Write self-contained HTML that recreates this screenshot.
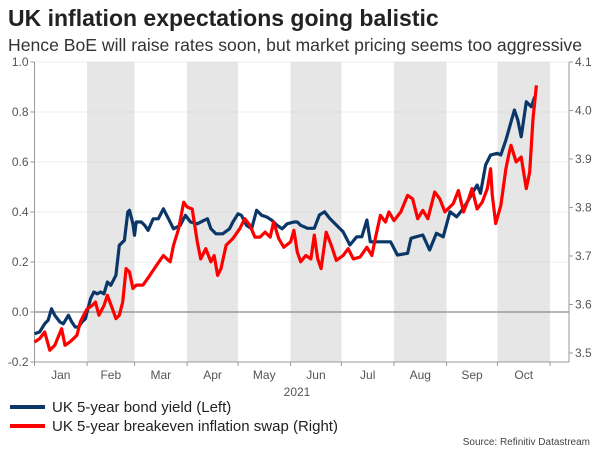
<!DOCTYPE html>
<html><head><meta charset="utf-8"><style>
body{margin:0;background:#fff;font-family:"Liberation Sans",sans-serif;}
#wrap{position:relative;width:600px;height:450px;overflow:hidden}
</style></head><body>
<div id="wrap">
<svg id="svg" width="600" height="450" xmlns="http://www.w3.org/2000/svg" font-family="Liberation Sans, sans-serif">
<text x="8" y="26" font-size="23" font-weight="bold" fill="#222">UK inflation expectations going balistic</text>
<text x="8" y="51" font-size="17.6" fill="#333">Hence BoE will raise rates soon, but market pricing seems too aggressive</text>
<g id="bands"></g><g id="grid"></g><g id="axes"></g><g id="lines"></g>
<text x="297" y="396" font-size="12" fill="#555" text-anchor="middle">2021</text>
<line x1="10" y1="407" x2="45" y2="407" stroke="#0b3768" stroke-width="4"/>
<text x="52" y="412" font-size="15" fill="#222">UK 5-year bond yield (Left)</text>
<line x1="10" y1="426" x2="45" y2="426" stroke="#ff0000" stroke-width="4"/>
<text x="52" y="431" font-size="15" fill="#222">UK 5-year breakeven inflation swap (Right)</text>
<text x="590" y="445" font-size="10" fill="#444" text-anchor="end">Source: Refinitiv Datastream</text>
</svg></div>
<script>
const months=["Jan","Feb","Mar","Apr","May","Jun","Jul","Aug","Sep","Oct"];
const monthStarts=[0,31,59,90,120,151,181,212,243,273,304];
const leftTicks=[-0.2,0,0.2,0.4,0.6,0.8,1.0];
const leftTickLabels=["-0.2","0.0","0.2","0.4","0.6","0.8","1.0"];
const rightTicks=[3.5,3.6,3.7,3.8,3.9,4.0,4.1];
const rightTickLabels=["3.5","3.6","3.7","3.8","3.9","4.0","4.1"];
const bondDays=[0,3,6,8,10,12,15,17,20,22,24,26,28,30,31,33,35,37,39,41,43,45,48,50,53,55,56,58,59,60,63,65,67,70,73,76,79,82,86,89,92,96,100,102,104,107,111,115,117,120,122,125,128,131,134,137,140,143,146,149,153,155,157,161,165,168,171,174,178,182,186,190,193,196,198,204,210,214,220,222,225,229,233,237,241,245,249,253,257,261,263,266,269,273,275,278,283,285,287,290,293,295];
const bondYield=[-0.087,-0.08,-0.047,-0.033,0.013,-0.013,-0.04,-0.047,-0.013,-0.04,-0.06,-0.06,-0.04,-0.027,0,0.053,0.08,0.073,0.08,0.073,0.12,0.107,0.147,0.267,0.287,0.4,0.407,0.353,0.307,0.36,0.36,0.347,0.327,0.373,0.373,0.413,0.373,0.333,0.347,0.387,0.36,0.353,0.367,0.373,0.333,0.313,0.313,0.333,0.36,0.393,0.387,0.347,0.333,0.407,0.387,0.38,0.367,0.347,0.333,0.353,0.36,0.36,0.347,0.335,0.335,0.388,0.401,0.375,0.348,0.321,0.268,0.301,0.301,0.368,0.281,0.281,0.281,0.228,0.235,0.295,0.301,0.308,0.248,0.315,0.301,0.401,0.381,0.415,0.461,0.508,0.475,0.588,0.628,0.635,0.628,0.688,0.808,0.768,0.701,0.841,0.821,0.861];
const swapDays=[0,3,6,9,12,16,18,21,25,27,29,31,34,36,38,41,43,46,48,50,52,54,56,58,60,64,68,72,76,78,80,82,85,88,90,93,96,98,101,104,106,108,110,113,117,121,124,127,130,133,136,139,141,144,147,151,153,155,157,160,163,165,167,169,172,175,178,182,185,188,192,196,199,201,204,207,209,212,216,220,223,226,229,232,236,239,242,247,250,253,256,258,261,264,267,269,270,272,275,278,280,281,284,287,290,292,294,296];
const swapRate=[3.5227,3.5295,3.5433,3.5055,3.5158,3.5502,3.5158,3.523,3.5364,3.5639,3.578,3.591,3.598,3.605,3.578,3.598,3.619,3.591,3.571,3.578,3.605,3.674,3.667,3.633,3.640,3.640,3.660,3.681,3.701,3.694,3.688,3.722,3.756,3.811,3.801,3.797,3.729,3.694,3.715,3.688,3.701,3.660,3.674,3.722,3.736,3.756,3.777,3.763,3.739,3.739,3.749,3.739,3.770,3.736,3.718,3.729,3.753,3.708,3.688,3.701,3.694,3.743,3.694,3.674,3.749,3.722,3.691,3.701,3.715,3.694,3.698,3.718,3.701,3.736,3.784,3.770,3.791,3.773,3.791,3.825,3.818,3.777,3.794,3.777,3.832,3.818,3.791,3.808,3.835,3.791,3.818,3.839,3.797,3.811,3.839,3.880,3.825,3.767,3.804,3.880,3.914,3.928,3.894,3.904,3.839,3.873,3.983,4.052];
const NS="http://www.w3.org/2000/svg";
const X0=34.5,X1=569,XEND=550,TOP=62,BOT=362;
const x=d=>X0+d*(XEND-X0)/304;
const yL=v=>TOP+(1.0-v)*(BOT-TOP)/1.2;
const yR=v=>62+(4.1-v)*485;
function mk(t,a,p){const e=document.createElementNS(NS,t);for(const k in a)e.setAttribute(k,a[k]);p.appendChild(e);return e;}
const bands=document.getElementById('bands'),grid=document.getElementById('grid'),axes=document.getElementById('axes'),lines=document.getElementById('lines');
for(let i=1;i<months.length;i+=2){
 const r=mk('rect',{x:x(monthStarts[i]),y:TOP,width:x(monthStarts[i+1])-x(monthStarts[i]),height:BOT-TOP,fill:'#e6e6e6'},bands);
 
 
}
leftTicks.forEach((v,i)=>{
 const yy=yL(v);
 if(v===0){const l=mk('line',{x1:X0,x2:X1,y1:yy,y2:yy,stroke:'#8a8a8a','stroke-width':1.2},grid);
  }
 else if(v>-0.2){const g=mk('line',{x1:X0,x2:X1,y1:yy,y2:yy,stroke:'#cfcfcf','stroke-width':0.8,'stroke-dasharray':'1,1'},grid);
  }
 mk('line',{x1:X0-4,x2:X0,y1:yy,y2:yy,stroke:'#999'},axes);
 const t=mk('text',{x:X0-6,y:yy+4,'font-size':12,fill:'#555','text-anchor':'end'},axes);t.textContent=leftTickLabels[i];
 
});
rightTicks.forEach((v,i)=>{
 const yy=yR(v);
 mk('line',{x1:X1,x2:X1+4,y1:yy,y2:yy,stroke:'#999'},axes);
 const t=mk('text',{x:X1+6,y:yy+4,'font-size':12,fill:'#555'},axes);t.textContent=rightTickLabels[i];
 
});
const la=mk('line',{x1:X0,x2:X0,y1:TOP,y2:BOT,stroke:'#999'},axes);
const ra=mk('line',{x1:X1,x2:X1,y1:TOP,y2:BOT,stroke:'#999'},axes);
const ba=mk('line',{x1:X0,x2:X1,y1:BOT,y2:BOT,stroke:'#999'},axes);
monthStarts.forEach((d,i)=>{
 mk('line',{x1:x(d),x2:x(d),y1:BOT,y2:BOT+4,stroke:'#999'},axes);
 if(i<months.length){const t=mk('text',{x:(x(d)+x(monthStarts[i+1]))/2,y:BOT+17,'font-size':12,fill:'#555','text-anchor':'middle'},axes);
 t.textContent=months[i];}
});
const bp=mk('path',{d:bondDays.map((d,i)=>(i?'L':'M')+x(d).toFixed(1)+','+yL(bondYield[i]).toFixed(1)).join(''),fill:'none',stroke:'#0b3768','stroke-width':3.2,'stroke-linejoin':'round'},lines);

const sp=mk('path',{d:swapDays.map((d,i)=>(i?'L':'M')+x(d).toFixed(1)+','+yR(swapRate[i]).toFixed(1)).join(''),fill:'none',stroke:'#ff0000','stroke-width':3.2,'stroke-linejoin':'round'},lines);

</script>
</body></html>
